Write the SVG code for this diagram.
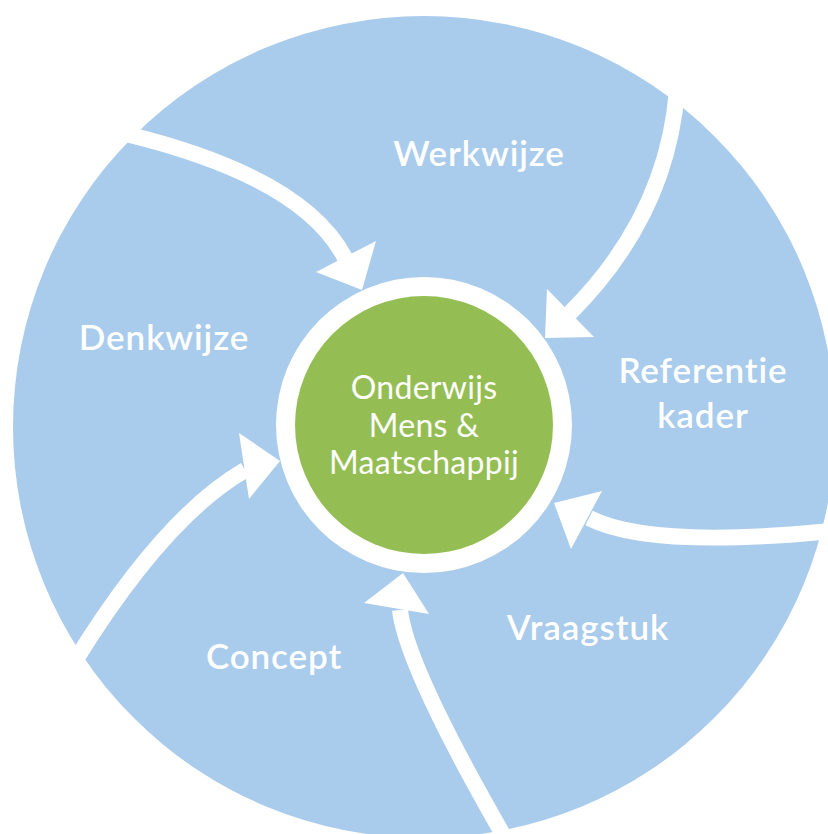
<svg xmlns="http://www.w3.org/2000/svg" width="828" height="834" viewBox="0 0 828 834">
  <style>
    .lbl { font-family: Lato, "Open Sans", "Liberation Sans", sans-serif; fill: #ffffff; text-anchor: middle; }
    .outer { font-size: 35px; font-weight: 600; letter-spacing: 0.9px; }
    .inner { font-size: 32px; letter-spacing: 0.3px; }
    .arc { fill: none; stroke: #ffffff; stroke-width: 16; }
    .head { fill: #ffffff; }
  </style>
  <rect width="828" height="834" fill="#ffffff"/>
  <g id="background">
    <circle cx="424" cy="427" r="411" fill="#A9CBEC"/>
  </g>
  <g id="connectors">
    <path class="arc" d="M126,134 Q303,177 345,258"/>
    <polygon class="head" points="316,272 376,241 362,290"/>
    <path class="arc" d="M677,90 Q667,216 570,313"/>
    <polygon class="head" points="547,289 594,337 545,338"/>
    <path class="arc" d="M832,531 Q650,549 589,518"/>
    <polygon class="head" points="602,491 571,549 554,503"/>
    <path class="arc" d="M505,838 Q406,666 400,610"/>
    <polygon class="head" points="364,603 429,614 403,573"/>
    <path class="arc" d="M75,661 Q164,517 245,470"/>
    <polygon class="head" points="239,433 249,499 280,461"/>
  </g>
  <g id="center">
    <circle cx="424" cy="425" r="148" fill="#ffffff"/>
    <circle cx="424" cy="425" r="129" fill="#94BE53"/>
    <text class="lbl inner" x="424" y="399">Onderwijs</text>
    <text class="lbl inner" x="424" y="437">Mens &amp;</text>
    <text class="lbl inner" x="424" y="474">Maatschappij</text>
  </g>
  <g id="werkwijze"><text class="lbl outer" x="479" y="166">Werkwijze</text></g>
  <g id="denkwijze"><text class="lbl outer" x="164" y="350">Denkwijze</text></g>
  <g id="referentiekader">
    <text class="lbl outer" x="703" y="383">Referentie</text>
    <text class="lbl outer" x="703" y="428">kader</text>
  </g>
  <g id="vraagstuk"><text class="lbl outer" x="588" y="640">Vraagstuk</text></g>
  <g id="concept"><text class="lbl outer" x="274" y="669">Concept</text></g>
</svg>
